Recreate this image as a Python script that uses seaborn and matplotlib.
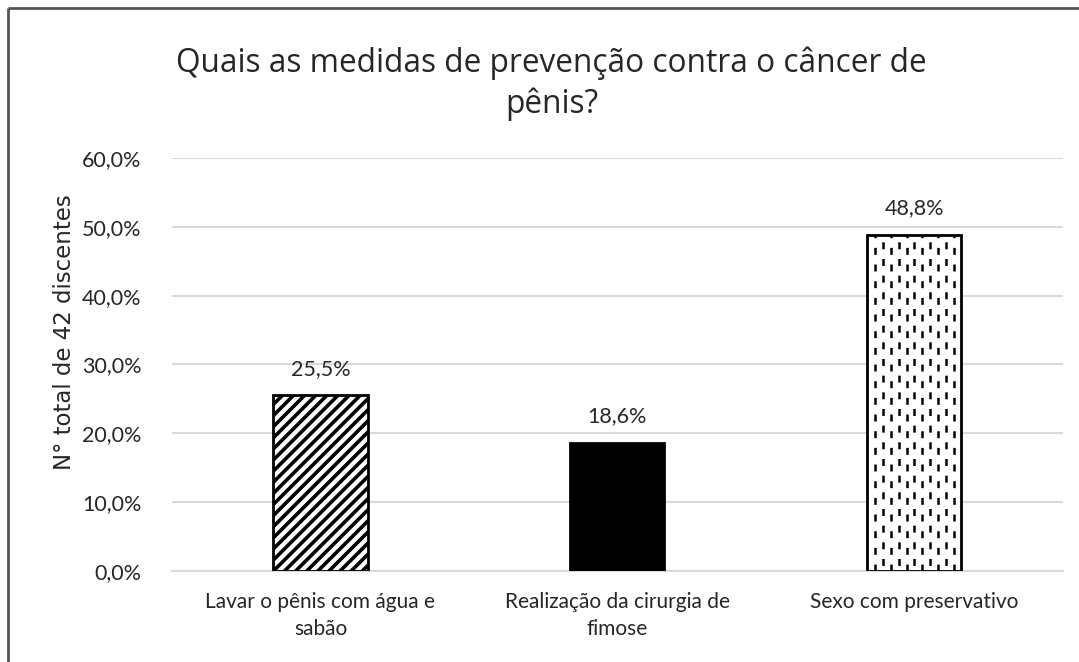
import numpy as np
import pandas as pd
import seaborn as sns
import matplotlib.pyplot as plt
from matplotlib.lines import Line2D

# Chart data
categories = ["Lavar o pênis com água e\nsabão", "Realização da cirurgia de\nfimose", "Sexo com preservativo"]
values = [25.5, 18.6, 48.8]
value_labels = ["25,5%", "18,6%", "48,8%"]
yticks = [0, 10, 20, 30, 40, 50, 60]
ytick_labels = ["0,0%", "10,0%", "20,0%", "30,0%", "40,0%", "50,0%", "60,0%"]
title = "Quais as medidas de prevenção contra o câncer de\npênis?"
ylabel = "N° total de 42 discentes"

sns.set_style("white")
plt.rcParams["font.family"] = ["Lato", "DejaVu Sans"]
plt.rcParams["hatch.linewidth"] = 2.6
plt.rcParams["lines.scale_dashes"] = False

df = pd.DataFrame({"categoria": categories, "valor": values})

fig = plt.figure(figsize=(10.79, 6.62), dpi=100)
ax = fig.add_axes([0.1594, 0.1375, 0.8256, 0.6238])

sns.barplot(data=df, x="categoria", y="valor", color="white", width=0.317,
            edgecolor="black", linewidth=2, ax=ax, zorder=3)

bars = ax.patches
bars[0].set_hatch("///")
bars[1].set_facecolor("black")

# dashed vertical fill for the third bar
b = bars[2]
xs = np.linspace(b.get_x(), b.get_x() + b.get_width(), 13)[1:-1]
for i, x in enumerate(xs):
    offset = 8 if i % 2 else 0
    ln, = ax.plot([x, x], [0, b.get_height()], color="black", lw=1.8,
                  linestyle=(offset, (5, 7)), dash_capstyle="butt", zorder=3.5)
    ln.set_clip_path(b)

ax.bar_label(ax.containers[0], labels=value_labels, padding=12, fontsize=15.5,
             color="#262626")

ax.set_ylim(0, 60)
ax.set_xlim(-0.5, 2.5)
ax.set_yticks(yticks)
ax.set_yticklabels(ytick_labels)
ax.tick_params(axis="y", length=0, pad=22, labelsize=15.5, labelcolor="#262626")
ax.tick_params(axis="x", length=0, pad=15, labelsize=15, labelcolor="#262626")
for t in ax.get_xticklabels():
    t.set_linespacing(1.45)
ax.yaxis.grid(True, color="#d9d9d9", lw=1.5, zorder=0)
for s in ["top", "right", "left"]:
    ax.spines[s].set_visible(False)
ax.spines["bottom"].set_color("#d9d9d9")
ax.spines["bottom"].set_linewidth(1.5)
ax.set_xlabel("")
ax.set_ylabel(ylabel, fontsize=16.5, family="DejaVu Sans", color="#262626")
ax.yaxis.set_label_coords(-0.108, 0.579)

fig.text(0.511, 0.93, title, ha="center", va="top", fontsize=22.8,
         family="Open Sans", color="#262626", linespacing=1.32)

# frame on top and left edges
fig.add_artist(Line2D([0.0075, 1.0], [0.988, 0.988], color="#555555", lw=2,
                      solid_capstyle="butt"))
fig.add_artist(Line2D([0.0075, 0.0075], [0.0, 0.988], color="#555555", lw=2,
                      solid_capstyle="butt"))

fig.savefig("out.png", dpi=100)
